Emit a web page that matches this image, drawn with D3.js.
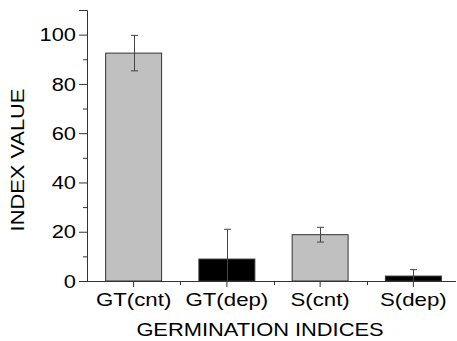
<!DOCTYPE html>
<html>
<head>
<meta charset="utf-8">
<script src="https://cdn.jsdelivr.net/npm/d3@7"></script>
<style>
  body { margin: 0; background: #fff; }
  text { font-family: "Liberation Sans", Arial, sans-serif; fill: #000; }
</style>
</head>
<body>
<div id="chart"></div>
<script>
// data
var categories = ["GT(cnt)", "GT(dep)", "S(cnt)", "S(dep)"];
var values = [92.5, 8.9, 18.8, 2.0];
var errors = [7.2, 12.1, 3.0, 2.6];
var fills = ["#c0c0c0", "#000000", "#c0c0c0", "#000000"];
var majorTicks = [0, 20, 40, 60, 80, 100];
var minorTicks = [10, 30, 50, 70, 90, 110];

var width = 457, height = 341;
var mLeft = 87, mTop = 10, mBottom = 281, mRight = 460;

var svg = d3.select("#chart")
  .append("svg")
  .attr("width", width)
  .attr("height", height);

var x = d3.scaleBand()
  .domain(categories)
  .range([mLeft, mRight])
  .paddingInner(0.4)
  .paddingOuter(0.2);

var y = d3.scaleLinear()
  .domain([0, 110])
  .range([mBottom, mTop]);

// the source font is a bit wider than Arial, so stretch texts sideways
let stretch = (sel, k) => {
  sel.each(function() {
    var w = this.getComputedTextLength();
    d3.select(this)
      .attr("textLength", w * k)
      .attr("lengthAdjust", "spacingAndGlyphs");
  });
}

// bars
svg.selectAll("rect.bar")
  .data(values)
  .enter()
  .append("rect")
  .attr("class", "bar")
  .attr("x", (d, i) => x(categories[i]))
  .attr("y", d => y(d))
  .attr("width", x.bandwidth())
  .attr("height", d => y(0) - y(d))
  .style("fill", (d, i) => fills[i])
  .style("stroke", "#333")
  .style("stroke-width", 1);

// error bars (lower ends below zero are hidden behind the axis in the source)
var err = svg.append("g")
  .style("stroke", "#444")
  .style("stroke-width", 1);

values.forEach(function(v, i) {
  var cx = Math.round(x(categories[i]) + x.bandwidth() / 2) + 0.5;
  var hi = v + errors[i], lo = v - errors[i];
  err.append("line")
    .attr("x1", cx).attr("x2", cx)
    .attr("y1", y(hi)).attr("y2", y(Math.max(0, lo)));
  [hi, lo].filter(e => e > 0).forEach(function(e) {
    err.append("line")
      .attr("x1", cx - 3.5).attr("x2", cx + 3.5)
      .attr("y1", y(e)).attr("y2", y(e));
  });
});

// y axis
var yAxis = svg.append("g")
  .attr("transform", "translate(" + mLeft + ",0)")
  .call(d3.axisLeft(y).tickValues(majorTicks).tickSize(8).tickPadding(3));
yAxis.selectAll("text").style("font-size", "19px").call(stretch, 1.15);

var yMinor = svg.append("g")
  .attr("transform", "translate(" + mLeft + ",0)")
  .call(d3.axisLeft(y).tickValues(minorTicks).tickSize(4).tickFormat(""));
yMinor.select(".domain").remove();

// x axis
var xAxis = svg.append("g")
  .attr("transform", "translate(0," + mBottom + ")")
  .call(d3.axisBottom(x).tickSize(6).tickPadding(6).tickSizeOuter(0));
xAxis.selectAll("text").style("font-size", "19px").call(stretch, 1.17);
xAxis.select(".domain").attr("d", "M" + mLeft + ",0.5H" + (width - 1));

var step = x.step();
var xMinor = svg.append("g")
  .attr("transform", "translate(0," + mBottom + ")");
categories.slice(1).forEach(function(c) {
  var mx = Math.round(x(c) - (step - x.bandwidth()) / 2) + 0.5;
  xMinor.append("line")
    .attr("x1", mx).attr("x2", mx)
    .attr("y1", 0).attr("y2", 4);
});

svg.selectAll(".domain, .tick line").style("stroke", "#333");
xMinor.selectAll("line").style("stroke", "#333");

// axis titles
svg.append("text")
  .attr("transform", "translate(24,160) rotate(-90)")
  .attr("text-anchor", "middle")
  .style("font-size", "19px")
  .text("INDEX VALUE")
  .call(stretch, 1.15);

svg.append("text")
  .attr("x", 260)
  .attr("y", 336)
  .attr("text-anchor", "middle")
  .style("font-size", "19px")
  .text("GERMINATION INDICES")
  .call(stretch, 1.15);
</script>
</body>
</html>
